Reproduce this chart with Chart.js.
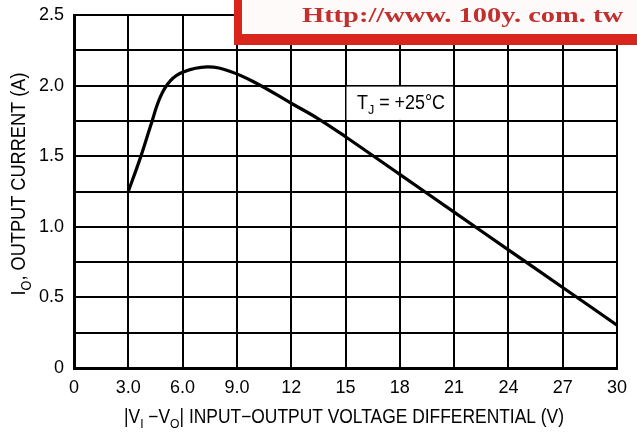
<!DOCTYPE html>
<html>
<head>
<meta charset="utf-8">
<script src="https://cdn.jsdelivr.net/npm/chart.js@4.4.1/dist/chart.umd.min.js"></script>
<style>
  html, body { margin: 0; padding: 0; background: #fff; }
  #wrap { width: 637px; height: 437px; }
</style>
</head>
<body>
<div id="wrap"><canvas id="curveChart" width="637" height="437"></canvas></div>
<script>
// |VI - VO| (V) vs output current IO (A)
const voltage = [3, 3.67, 4.22, 4.77, 5.33, 6.0, 7.35, 8.64, 10.1, 12, 13.5, 15, 18, 21, 24, 27, 30];
const current = [1.25, 1.49, 1.71, 1.92, 2.035, 2.095, 2.132, 2.1, 2.015, 1.875, 1.765, 1.638, 1.371, 1.104, 0.837, 0.57, 0.304];

const xTicks = [0, 3, 6, 9, 12, 15, 18, 21, 24, 27, 30];
const xTickLabels = ['0', '3.0', '6.0', '9.0', '12', '15', '18', '21', '24', '27', '30'];
const yTickLabels = { 0: '0', 0.5: '0.5', 1: '1.0', 1.5: '1.5', 2: '2.0', 2.5: '2.5' };

const FONT = '"Liberation Sans", Arial, sans-serif';

// draw text runs, some of them subscript, squeezed to a given width
function drawRuns(ctx, runs, size, width) {
    let total = 0;
    runs.forEach(r => {
        ctx.font = (r.sub ? size * 0.7 : size) + 'px ' + FONT;
        total += ctx.measureText(r.t).width;
    });
    const sx = width / total;
    ctx.save();
    ctx.scale(sx, 1);
    let x = -total / 2;
    runs.forEach(r => {
        ctx.font = (r.sub ? size * 0.7 : size) + 'px ' + FONT;
        ctx.fillText(r.t, x, r.sub ? size * 0.28 : 0);
        x += ctx.measureText(r.t).width;
    });
    ctx.restore();
}

const extras = {
    id: 'extras',
    afterDraw(chart) {
        const ctx = chart.ctx;
        const xs = chart.scales.x, ys = chart.scales.y;
        ctx.save();
        ctx.fillStyle = '#000';
        ctx.textBaseline = 'alphabetic';
        ctx.textAlign = 'left';

        // axis titles
        ctx.save();
        ctx.translate(344, 423);
        drawRuns(ctx, [
            { t: '|V' }, { t: 'I', sub: true }, { t: ' \u2212V' }, { t: 'O', sub: true },
            { t: '| INPUT\u2212OUTPUT VOLTAGE DIFFERENTIAL (V)' }
        ], 19.5, 440);
        ctx.restore();

        ctx.save();
        ctx.translate(25, 184);
        ctx.rotate(-Math.PI / 2);
        drawRuns(ctx, [
            { t: 'I' }, { t: 'O', sub: true }, { t: ', OUTPUT CURRENT (A)' }
        ], 20, 223);
        ctx.restore();

        // TJ label box
        const bx1 = xs.getPixelForValue(15) + 1, bx2 = xs.getPixelForValue(21) - 1;
        const by1 = ys.getPixelForValue(2.0) + 1, by2 = ys.getPixelForValue(1.75) - 1;
        ctx.fillStyle = '#fff';
        ctx.fillRect(bx1, by1, bx2 - bx1, by2 - by1);
        ctx.fillStyle = '#000';
        ctx.save();
        ctx.translate(401, 109);
        drawRuns(ctx, [{ t: 'T' }, { t: 'J', sub: true }, { t: ' = +25\u00B0C' }], 19.5, 88);
        ctx.restore();

        // site stamp in the top right corner
        ctx.fillStyle = '#d9261c';
        ctx.fillRect(234, 0, 403, 45);
        ctx.fillStyle = '#fffafa';
        ctx.fillRect(242, 0, 395, 34);
        ctx.fillStyle = '#c0302e';
        ctx.font = 'bold 22px "Liberation Serif", "DejaVu Serif", serif';
        const stamp = 'Http://www. 100y. com. tw';
        const w = ctx.measureText(stamp).width;
        ctx.save();
        ctx.translate(302, 22);
        ctx.scale(321 / w, 1);
        ctx.fillText(stamp, 0, 0);
        ctx.restore();

        ctx.restore();
    }
};

const ctx = document.getElementById('curveChart').getContext('2d');
const curveChart = new Chart(ctx, {
    type: 'line',
    data: {
        datasets: [{
            data: voltage.map((v, i) => ({ x: v, y: current[i] })),
            borderColor: '#000',
            borderWidth: 3.2,
            pointRadius: 0,
            fill: false,
            tension: 0.4
        }]
    },
    options: {
        responsive: false,
        animation: false,
        layout: { padding: { top: 15, right: 20, left: 0, bottom: 0 } },
        plugins: { legend: { display: false }, tooltip: { enabled: false } },
        scales: {
            x: {
                type: 'linear',
                min: 0,
                max: 30,
                afterBuildTicks: axis => { axis.ticks = xTicks.map(v => ({ value: v })); },
                afterFit: axis => { axis.height = 69; axis.paddingLeft = 0; axis.paddingRight = 0; },
                grid: { color: '#000', lineWidth: 2, drawTicks: false },
                border: { color: '#000', width: 3 },
                ticks: {
                    color: '#000',
                    padding: 9,
                    maxRotation: 0,
                    font: { family: FONT, size: 18 },
                    callback: v => xTickLabels[xTicks.indexOf(v)]
                }
            },
            y: {
                min: 0,
                max: 2.5,
                afterFit: axis => { axis.width = 74; axis.paddingTop = 0; axis.paddingBottom = 0; },
                grid: { color: '#000', lineWidth: 2, drawTicks: false },
                border: { color: '#000', width: 3 },
                ticks: {
                    stepSize: 0.25,
                    color: '#000',
                    padding: 10,
                    font: { family: FONT, size: 18 },
                    callback: v => yTickLabels[v] !== undefined ? yTickLabels[v] : ''
                }
            }
        }
    },
    plugins: [extras]
});
</script>
</body>
</html>
